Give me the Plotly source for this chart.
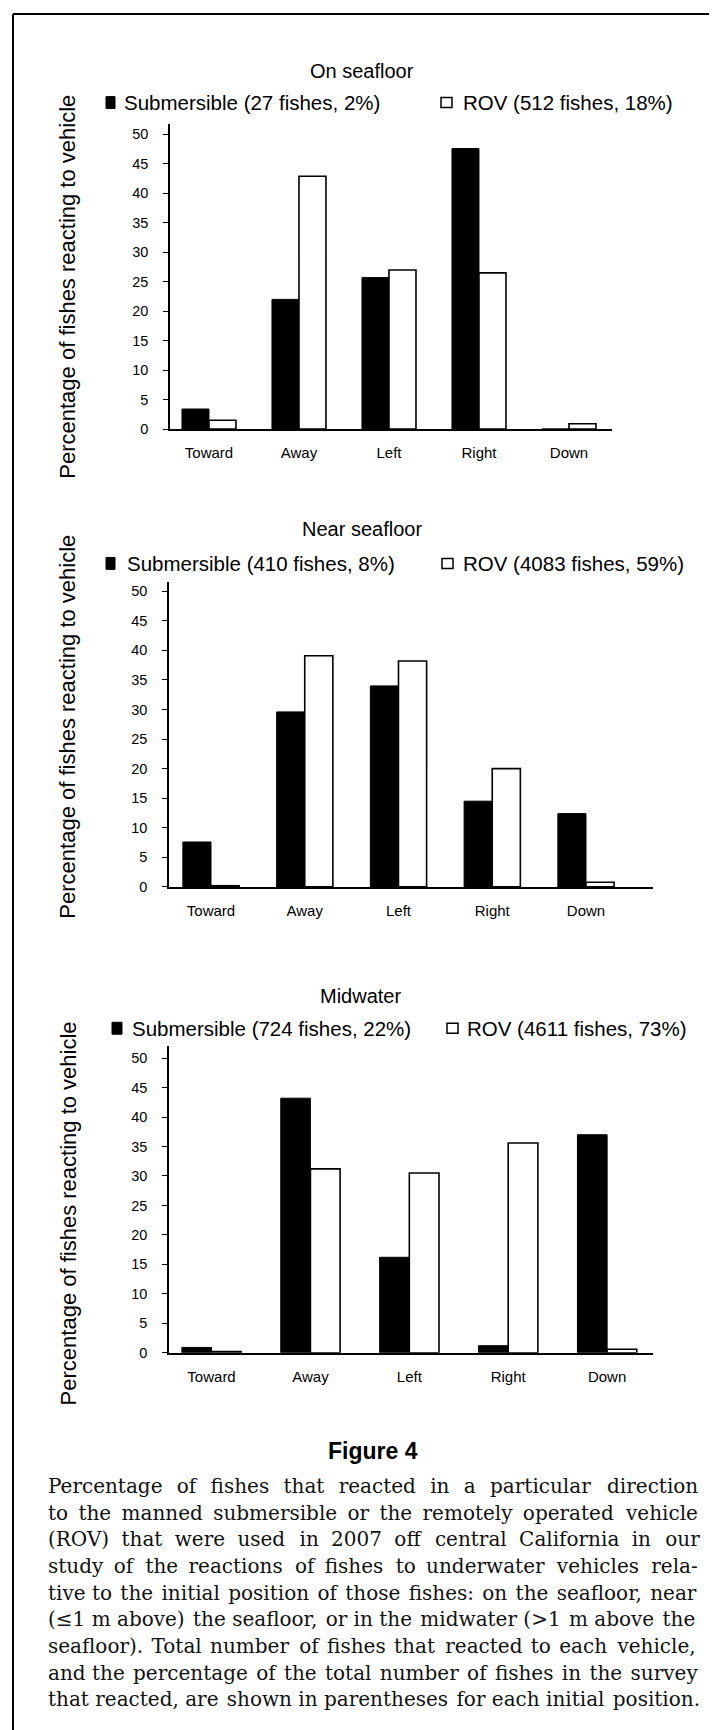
import plotly.graph_objects as go

W, H = 717, 1730

# ---------------- data ----------------
categories = ["Toward", "Away", "Left", "Right", "Down"]

panel_titles = ["On seafloor", "Near seafloor", "Midwater"]
sub_labels = ["Submersible (27 fishes, 2%)",
              "Submersible (410 fishes, 8%)",
              "Submersible (724 fishes, 22%)"]
rov_labels = ["ROV (512 fishes, 18%)",
              "ROV (4083 fishes, 59%)",
              "ROV (4611 fishes, 73%)"]

sub_on_seafloor = [3.4, 22.0, 25.7, 47.6, 0.0]
rov_on_seafloor = [1.5, 42.9, 27.0, 26.5, 0.9]

sub_near_seafloor = [7.6, 29.6, 34.0, 14.5, 12.4]
rov_near_seafloor = [0.2, 39.1, 38.2, 20.0, 0.8]

sub_midwater = [0.9, 43.2, 16.2, 1.2, 37.0]
rov_midwater = [0.2, 31.2, 30.5, 35.6, 0.6]

y_tick_values = [0, 5, 10, 15, 20, 25, 30, 35, 40, 45, 50]
y_title = "Percentage of fishes reacting to vehicle"

figure_label = "Figure 4"
caption_lines = [
    "Percentage of fishes that reacted in a particular direction",
    "to the manned submersible or the remotely operated vehicle",
    "(ROV) that were used in 2007 off central California in our",
    "study of the reactions of fishes to underwater vehicles rela-",
    "tive to the initial position of those fishes: on the seafloor, near",
    "(\u22641 m above) the seafloor, or in the midwater (>1 m above the",
    "seafloor). Total number of fishes that reacted to each vehicle,",
    "and the percentage of the total number of fishes in the survey",
    "that reacted, are shown in parentheses for each initial position.",
]

sub_series = [sub_on_seafloor, sub_near_seafloor, sub_midwater]
rov_series = [rov_on_seafloor, rov_near_seafloor, rov_midwater]

# ---------------- layout geometry (pixels) ----------------
panels = [
    dict(x0=162, x1=604, yzero=423, y50=127, xr=(-0.433, 4.478), ymax=51.7,
         title_y=63, title_x=354, leg_y=95, sq1=(98, 107), t1=114, sq2=(433, 444), t2=453,
         ytitle_y=280),
    dict(x0=161, x1=645, yzero=883, y50=586, xr=(-0.448, 4.715), ymax=51.5,
         title_y=523, title_x=354, leg_y=558, sq1=(98, 107), t1=117, sq2=(434, 445), t2=453,
         ytitle_y=722),
    dict(x0=161, x1=645, yzero=1351, y50=1055, xr=(-0.43, 4.464), ymax=52.0,
         title_y=993, title_x=352, leg_y=1025, sq1=(104, 114), t1=122, sq2=(439, 450), t2=457,
         ytitle_y=1211),
]


def px(x):
    return x / W


def py(y):
    return 1 - y / H


SANS = "Liberation Sans, Arial, sans-serif"
SERIF = "DejaVu Serif, serif"

# approximate advance widths (units per 2048 em) used to justify the caption lines
_ADV = dict(a=1221, b=1311, c=1147, d=1311, e=1212, f=739, g=1311, h=1325, i=655, j=635,
            k=1251, l=655, m=1970, n=1325, o=1231, p=1311, q=1311, r=979, s=1044, t=823,
            u=1325, v=1180, w=1726, x=1180, y=1180, z=1069)
_ADV.update({" ": 651, ",": 651, ".": 651, ":": 690, "(": 799, ")": 799, "-": 758,
             "\u2264": 1716, ">": 1716, "P": 1380, "R": 1510, "O": 1608, "V": 1479,
             "C": 1503, "T": 1413})
for dgt in "0123456789":
    _ADV[dgt] = 1303

HAIR = "\u200a"          # hair space, 0.1 em


def est_width(s, size):
    return sum(_ADV.get(ch, 1250) for ch in s) / 2048.0 * size


def justify(line, size, width):
    words = line.split(" ")
    gaps = len(words) - 1
    extra = max(0.0, width - est_width(line, size))
    unit = 0.1 * size
    total = int(round(extra / unit))
    out = words[0]
    for g in range(gaps):
        k = (total * (g + 1)) // gaps - (total * g) // gaps
        out += " " + HAIR * k + words[g + 1]
    return out


fig = go.Figure()
annotations = []
shapes = []
layout_axes = {}

for i, p in enumerate(panels):
    n = "" if i == 0 else str(i + 1)
    xa, ya = "x" + n, "y" + n
    fig.add_trace(go.Bar(
        x=categories, y=sub_series[i], xaxis=xa, yaxis=ya,
        marker=dict(color="black", line=dict(color="black", width=1)),
        showlegend=False, name="Submersible"))
    fig.add_trace(go.Bar(
        x=categories, y=rov_series[i], xaxis=xa, yaxis=ya,
        marker=dict(color="white", line=dict(color="black", width=1.6)),
        showlegend=False, name="ROV"))

    ppu = (p["yzero"] - p["y50"]) / 50.0
    ytop_px = p["yzero"] - p["ymax"] * ppu
    layout_axes["xaxis" + n] = dict(
        domain=[px(p["x0"]), px(p["x1"])], anchor=ya, range=list(p["xr"]),
        showline=True, linecolor="black", linewidth=1.5, ticks="",
        showgrid=False, zeroline=False, tickfont=dict(family=SANS, size=15, color="black"),
        ticklabelstandoff=9, fixedrange=True)
    layout_axes["yaxis" + n] = dict(
        domain=[py(p["yzero"]), py(ytop_px)], anchor=xa, range=[0, p["ymax"]],
        showline=True, linecolor="black", linewidth=1.5, ticks="outside",
        ticklen=5, tickwidth=1, tickcolor="black", tickvals=y_tick_values,
        showgrid=False, zeroline=False, tickfont=dict(family=SANS, size=14.5, color="black"),
        ticklabelstandoff=12, fixedrange=True)

    # panel title
    annotations.append(dict(text=panel_titles[i], x=px(p["title_x"]), y=py(p["title_y"]),
                            xref="paper", yref="paper", xanchor="center", yanchor="middle",
                            showarrow=False, font=dict(family=SANS, size=20, color="black")))
    # legend texts
    annotations.append(dict(text=sub_labels[i], x=px(p["t1"]), y=py(p["leg_y"]),
                            xref="paper", yref="paper", xanchor="left", yanchor="middle",
                            showarrow=False, font=dict(family=SANS, size=20.5, color="black")))
    annotations.append(dict(text=rov_labels[i], x=px(p["t2"]), y=py(p["leg_y"]),
                            xref="paper", yref="paper", xanchor="left", yanchor="middle",
                            showarrow=False, font=dict(family=SANS, size=20.5, color="black")))
    # legend squares
    shapes.append(dict(type="rect", xref="paper", yref="paper",
                       x0=px(p["sq1"][0]), x1=px(p["sq1"][1]),
                       y0=py(p["leg_y"] + 6), y1=py(p["leg_y"] - 6),
                       fillcolor="black", line=dict(color="black", width=1)))
    shapes.append(dict(type="rect", xref="paper", yref="paper",
                       x0=px(p["sq2"][0]), x1=px(p["sq2"][1]),
                       y0=py(p["leg_y"] + 5), y1=py(p["leg_y"] - 5),
                       fillcolor="white", line=dict(color="black", width=1.5)))
    # y axis title
    annotations.append(dict(text=y_title, x=px(60), y=py(p["ytitle_y"]),
                            xref="paper", yref="paper", xanchor="center", yanchor="middle",
                            textangle=-90, showarrow=False,
                            font=dict(family=SANS, size=22, color="black")))

# Figure label and caption
annotations.append(dict(text="<b>" + figure_label + "</b>", x=px(365), y=py(1450),
                        xref="paper", yref="paper", xanchor="center", yanchor="middle",
                        showarrow=False, font=dict(family=SANS, size=23, color="black")))
CAP_SIZE = 20
CAP_LEFT, CAP_RIGHT = 39, 690
cap_y0, cap_dy = 1485, 26.75
for k, line in enumerate(caption_lines):
    annotations.append(dict(text=justify(line, CAP_SIZE, CAP_RIGHT - CAP_LEFT),
                            x=px(CAP_LEFT - 1), y=py(cap_y0 + k * cap_dy),
                            xref="paper", yref="paper", xanchor="left", yanchor="middle",
                            showarrow=False, font=dict(family=SERIF, size=CAP_SIZE, color="#111111")))

# page frame lines
shapes.append(dict(type="line", xref="paper", yref="paper", x0=px(5), x1=px(717),
                   y0=py(6), y1=py(6), line=dict(color="black", width=2)))
shapes.append(dict(type="line", xref="paper", yref="paper", x0=px(5), x1=px(5),
                   y0=py(6), y1=py(1730), line=dict(color="black", width=2)))

fig.update_layout(
    width=W, height=H, margin=dict(l=0, r=0, t=0, b=0),
    paper_bgcolor="white", plot_bgcolor="white",
    barmode="group", bargap=0.4, bargroupgap=0.0,
    annotations=annotations, shapes=shapes, showlegend=False,
    **layout_axes)

fig.write_html("out.html", config={"displayModeBar": False})
